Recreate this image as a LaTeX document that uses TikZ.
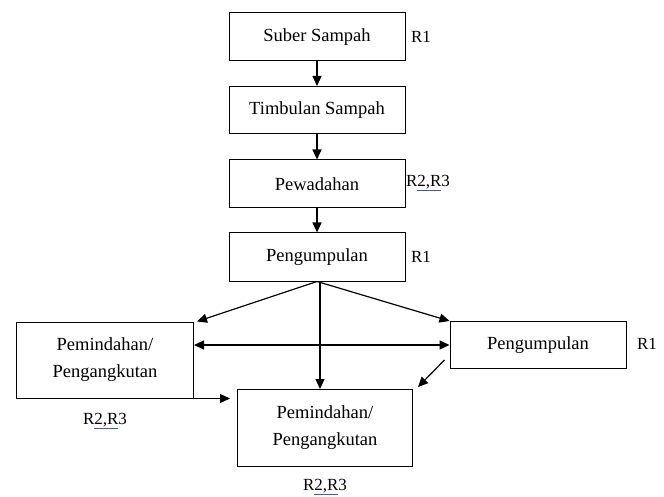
\documentclass[tikz,border=0pt]{standalone}
\usepackage{fontspec}
\setmainfont{Liberation Serif}
\usetikzlibrary{arrows.meta}

\tikzset{
    box/.style = {draw, line width=1pt, minimum width=176pt, align=center,
                  font=\fontsize{18.5}{27}\selectfont},
    tag/.style = {font=\fontsize{17}{20}\selectfont},
    flow/.style = {line width=1.2pt, -{Triangle[length=10pt, width=9pt]}}
}
\definecolor{squiggle}{RGB}{60,90,200}
\newcommand{\rduatiga}{R\textcolor{squiggle}{\underline{\textcolor{black}{2,R}}}3}

\begin{document}
\begin{tikzpicture}[x=1pt, y=-1pt]
                \useasboundingbox (0,0) rectangle (664,497);
                % Main column:
                \node[box, minimum height=48pt] (sumber)  at (317,37)  {Suber Sampah};
                \node[box, minimum height=47pt] (timbul)  at (317,110) {Timbulan Sampah};
                \node[box, minimum height=48pt] (wadah)   at (317,184) {Pewadahan};
                \node[box, minimum height=48pt] (kumpul)  at (317,257) {Pengumpulan};

                % Lower boxes:
                \node[box, minimum width=177pt, minimum height=76pt] (pindahA) at (105,360) {Pemindahan/\\Pengangkutan};
                \node[box, minimum height=47pt] (kumpulB) at (538,345) {Pengumpulan};
                \node[box, minimum width=175pt, minimum height=77pt] (pindahB) at (325,428) {Pemindahan/\\Pengangkutan};

                % Tags:
                \node[tag] (tSumber)  at (421,37)  {R1};
                \node[tag] (tWadah)   at (428,183) {\rduatiga};
                \node[tag] (tKumpul)  at (421,257) {R1};
                \node[tag] (tKumpulB) at (647,344) {R1};
                \node[tag] (tPindahA) at (105,421) {\rduatiga};
                \node[tag] (tPindahB) at (325,487) {\rduatiga};

                % Arrows:
                \draw[flow] (sumber) -- (timbul);
                \draw[flow] (timbul) -- (wadah);
                \draw[flow] (wadah) -- (kumpul);
                \draw[flow] (kumpul.south) -- ([shift={(3,0)}]pindahA.north east);
                \draw[flow] (kumpul.south) -- (kumpulB.north west);
                \draw[flow] ([shift={(3,0)}]kumpul.south) -- ([shift={(3,0)}]kumpul.south |- pindahB.north);
                \draw[flow, {Triangle[length=10pt, width=9pt]}-{Triangle[length=10pt, width=9pt]}]
                    (kumpulB.west) -- (kumpulB.west -| pindahA.east);
                \draw[flow, shorten >=7pt] (pindahA.south east) -- (pindahA.south east -| pindahB.west);
                \draw[flow] ([shift={(-5,-9)}]kumpulB.south west) -- ([shift={(5,-2)}]pindahB.north east);
            \end{tikzpicture}
\end{document}
